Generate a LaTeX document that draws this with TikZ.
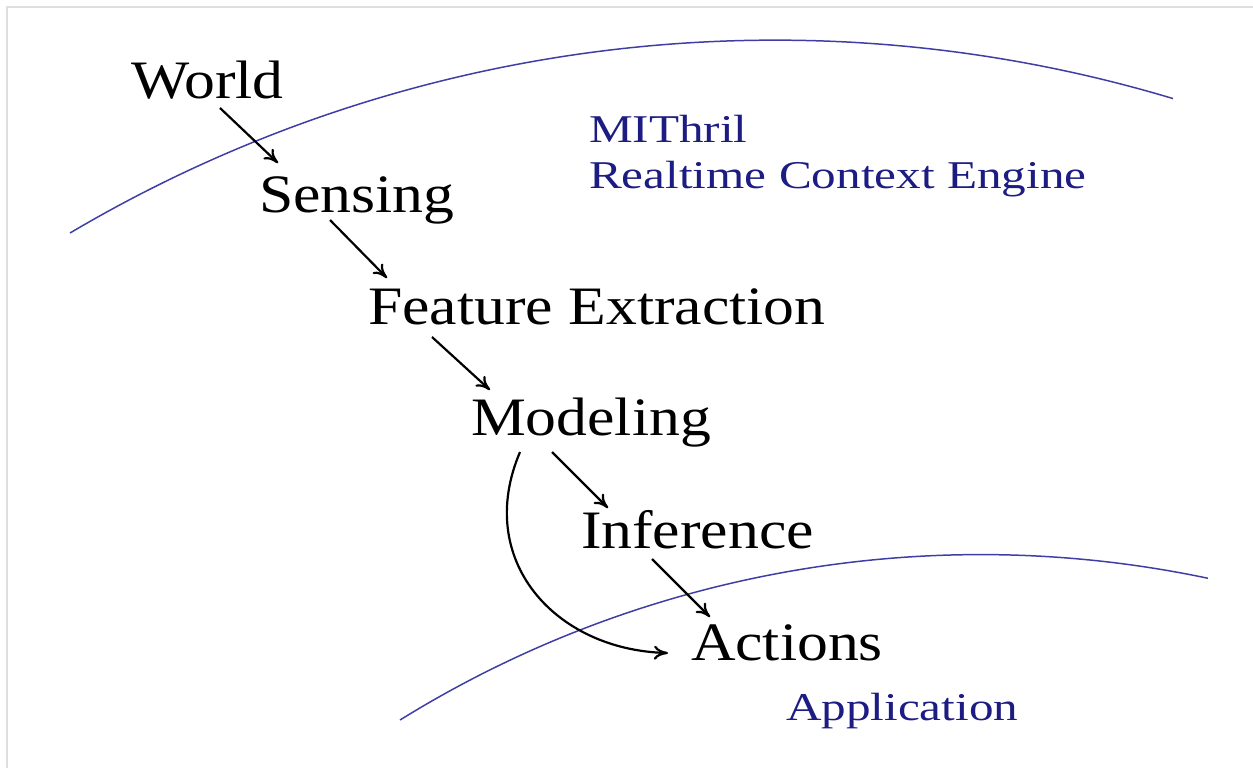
\documentclass[tikz,border=0pt]{standalone}
\usepackage{fontspec}
\setmainfont{Liberation Serif}
\newfontfamily\stagefont[FakeStretch=1.14]{Liberation Serif}
\newfontfamily\zonefont[FakeStretch=1.25]{Liberation Serif}
\usetikzlibrary{arrows.meta,calc}
\definecolor{engineblue}{RGB}{28,28,130}
\definecolor{arcblue}{RGB}{62,62,165}
\definecolor{frame}{RGB}{222,222,222}

\begin{document}
\begin{tikzpicture}[x=0.02cm,y=-0.02cm,line width=1.2pt,>={To[length=2.8mm,width=2.8mm]},
  stage/.style={anchor=base west,inner sep=0pt,font=\stagefont\fontsize{30.8}{32}\selectfont},
  zone/.style={anchor=base west,inner sep=0pt,text=engineblue,font=\zonefont\fontsize{22.4}{24}\selectfont},
  flow/.style={->,line width=1.25pt}]
\useasboundingbox (0,0) rectangle (1253,768);
% light frame at top and left
\draw[frame,line width=1.6pt] (7,768) -- (7,7) -- (1253,7);
% ================= zone boundaries =================
\draw[arcblue,line width=0.85pt] (70,233) arc[start angle=-120.6,end angle=-73.3,radius=1385];
\draw[arcblue,line width=0.85pt] (400,720) arc[start angle=-121.8,end angle=-78.1,radius=1102];
\node[zone] (mithril) at (588,142) {MIThril};
\node[zone] (engine) at (588,188) {Realtime Context Engine};
\node[zone] (application) at (785,720) {Application};
% ================= processing chain =================
\node[stage] (world) at (130,98) {World};
\node[stage] (sensing) at (258,212) {Sensing};
\node[stage] (feature) at (367,324) {Feature Extraction};
\node[stage] (modeling) at (470,435) {Modeling};
\node[stage] (inference) at (580,548) {Inference};
\node[stage] (actions) at (690,660) {Actions};
\draw[flow] ($(world.base west)+(90,10)$) -- ($(sensing.base west)+(20,-49)$);
\draw[flow] ($(sensing.base west)+(72,8)$) -- ($(feature.base west)+(20,-46)$);
\draw[flow] ($(feature.base west)+(65,13)$) -- ($(modeling.base west)+(20,-45)$);
\draw[flow] ($(modeling.base west)+(82,17)$) -- ($(inference.base west)+(28,-40)$);
\draw[flow] ($(inference.base west)+(72,11)$) -- ($(actions.base west)+(20,-43)$);
% shortcut from modeling straight to actions
\draw[flow] ($(modeling.base west)+(50,17)$) .. controls (474,560) and (555,650) .. ($(actions.base west)+(-22,-7)$);
\end{tikzpicture}
\end{document}
